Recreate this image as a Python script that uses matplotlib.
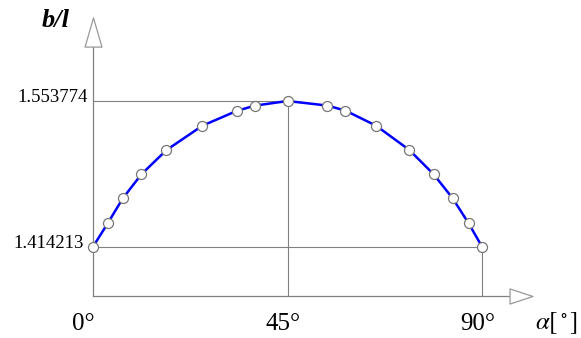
import numpy as np
import matplotlib.pyplot as plt
from matplotlib.path import Path

plt.rcParams['font.family'] = ['Liberation Serif', 'DejaVu Serif']
plt.rcParams['mathtext.fontset'] = 'stix'

# values
alpha = [0, 3.4, 6.9, 11.2, 17.0, 25.3, 33.2, 37.4, 45,
         54.2, 58.4, 65.5, 73.2, 78.8, 83.2, 86.9, 90]
b_l = [1.414213, 1.4366, 1.4606, 1.4836, 1.5068, 1.5301, 1.5442, 1.5493, 1.553774,
       1.5494, 1.5446, 1.5301, 1.5068, 1.4836, 1.4606, 1.4366, 1.414213]
x_ticks = [0, 45, 90]
x_labels = ['0°', '45°', '90°']
y_ticks = [1.553774, 1.414213]
y_labels = ['1.553774', '1.414213']

# layout (data units)
y_base = 1.3673      # where the alpha axis sits
x_end = 96.5         # end of alpha axis line
y_end = 1.6199       # end of b/l axis line

gray = '#808080'
W, H = 581, 338
fig = plt.figure(figsize=(W / 100, H / 100), dpi=100)
ax = fig.add_axes([0, 0, 1, 1])
ax.set_xlim(-21.52, 112.9)
ax.set_ylim(1.32676, 1.650518)
ax.axis('off')

# axes lines
ax.plot([0, x_end], [y_base, y_base], color=gray, lw=0.9)
ax.plot([0, 0], [y_base, y_end], color=gray, lw=0.9)

# hollow arrow heads
up = Path([(-0.29, -0.5), (0.29, -0.5), (0, 0.5), (-0.29, -0.5)],
          [Path.MOVETO, Path.LINETO, Path.LINETO, Path.CLOSEPOLY])
right = Path([(-0.5, -0.33), (-0.5, 0.33), (0.5, 0), (-0.5, -0.33)],
             [Path.MOVETO, Path.LINETO, Path.LINETO, Path.CLOSEPOLY])
ax.plot([0], [y_end], marker=up, ms=21, mfc='white', mec='#999999', mew=0.9,
        linestyle='none', clip_on=False)
ax.plot([x_end + 2.6], [y_base], marker=right, ms=16.5, mfc='white', mec='#999999',
        mew=0.9, linestyle='none', clip_on=False)

# guide lines to the max and end values
ax.plot([0, 45], [max(b_l)] * 2, color=gray, lw=0.8)
ax.plot([45, 45], [y_base, max(b_l)], color=gray, lw=0.8)
ax.plot([0, 90], [b_l[0]] * 2, color=gray, lw=0.8)
ax.plot([90, 90], [y_base, b_l[-1]], color=gray, lw=0.8)

# curve and points
ax.plot(alpha, b_l, color='#0000ff', lw=1.8, zorder=3)
ax.plot(alpha, b_l, 'o', ms=7.2, mfc='white', mec='#777777', mew=0.9, zorder=4)

# tick labels
x_dx = [-10, -4, -4]
for a, lab, dx in zip(x_ticks, x_labels, x_dx):
    ax.annotate(lab, xy=(a, y_base), xytext=(dx, -34), textcoords='offset pixels',
                ha='center', va='baseline', fontsize=18)
y_dx = [-5, -9]
for v, lab, dx in zip(y_ticks, y_labels, y_dx):
    ax.annotate(lab, xy=(0, v), xytext=(dx, -1), textcoords='offset pixels',
                ha='right', va='baseline', fontsize=13.5)

# axis titles
fig.text(56 / W, 1 - 27 / H, 'b/l', fontsize=19, style='italic', weight='bold',
         ha='center', va='baseline')
fig.text(578 / W, 1 - 329 / H, r'$\alpha[^\circ]$', fontsize=18,
         ha='right', va='baseline')

fig.savefig('out.png', dpi=100)
